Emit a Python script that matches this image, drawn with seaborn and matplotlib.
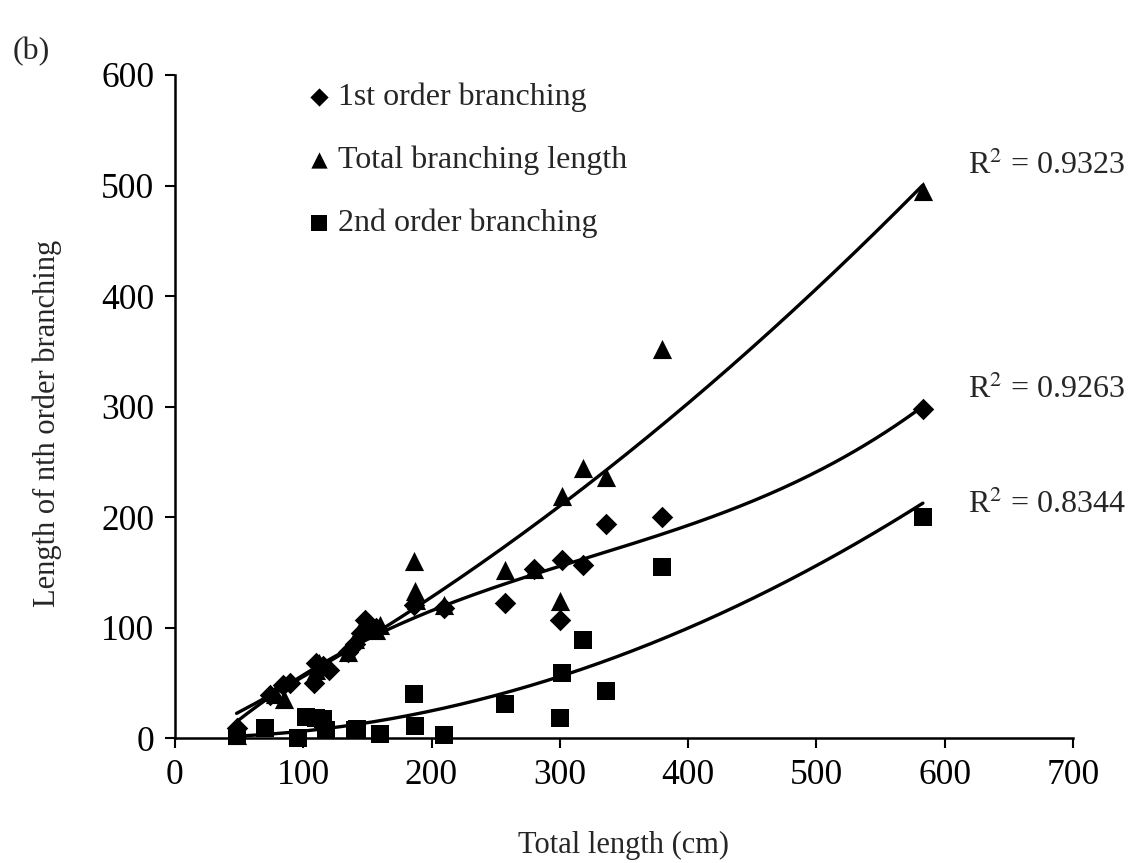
import numpy as np
import pandas as pd
import matplotlib
matplotlib.use("Agg")
import matplotlib.pyplot as plt
import seaborn as sns

# ---- data ----
first_x = [48, 74, 84, 90, 108, 110, 115, 120, 135, 140, 145, 148, 157, 186, 210, 257, 280, 300, 302, 318, 336, 380, 583]
first_y = [9, 39, 48, 50, 50, 68, 65, 62, 78, 85, 95, 107, 100, 120, 118, 122, 153, 107, 161, 157, 194, 200, 298]

total_x = [48, 78, 85, 110, 112, 135, 140, 145, 148, 157, 160, 186, 187, 188, 210, 257, 280, 300, 302, 318, 336, 380, 583]
total_y = [3, 40, 35, 62, 68, 78, 90, 100, 105, 98, 102, 160, 133, 125, 120, 152, 153, 124, 219, 244, 236, 352, 495]

second_x = [48, 70, 96, 102, 110, 115, 118, 140, 142, 160, 186, 187, 210, 257, 300, 302, 318, 336, 380, 583]
second_y = [2, 9, 0, 19, 18, 17, 7, 7, 8, 4, 40, 11, 3, 31, 18, 59, 89, 43, 155, 200]

series_names = ["1st order branching", "Total branching length", "2nd order branching"]
r2_labels = ["0.9263", "0.9323", "0.8344"]
fit_degrees = [3, 2, 2]
x_ticks = [0, 100, 200, 300, 400, 500, 600, 700]
y_ticks = [0, 100, 200, 300, 400, 500, 600]

sns.set_theme(style="white")
plt.rcParams['font.family'] = ['Liberation Serif', 'DejaVu Serif']
plt.rcParams['mathtext.fontset'] = 'stix'

fig = plt.figure(figsize=(11.34, 8.63), dpi=100)
ax = fig.add_axes([0.1543, 0.1448, 0.7919, 0.7683])

markers = ["D", "^", "s"]
sizes = [120, 190, 165]
xs = [first_x, total_x, second_x]
ys = [first_y, total_y, second_y]

for name, mk, sz, x, y, deg in zip(series_names, markers, sizes, xs, ys, fit_degrees):
    df = pd.DataFrame({"x": x, "y": y})
    sns.scatterplot(data=df, x="x", y="y", marker=mk, s=sz, color="black",
                    edgecolor="black", linewidth=0, ax=ax, label=name, zorder=3, clip_on=False)
    coef = np.polyfit(x, y, deg)
    xx = np.linspace(min(x), max(x), 200)
    fit = pd.DataFrame({"x": xx, "y": np.polyval(coef, xx)})
    sns.lineplot(data=fit, x="x", y="y", color="black", linewidth=2.4, ax=ax, zorder=2)

ax.set_xlim(0, 700)
ax.set_ylim(0, 600)
ax.set_xticks(x_ticks)
ax.set_yticks(y_ticks)
ax.tick_params(axis="both", labelsize=25.5, direction="out", length=7, width=1.5,
               bottom=True, left=True, pad=8, colors="black")
for s in ["top", "right"]:
    ax.spines[s].set_visible(False)
for s in ["left", "bottom"]:
    ax.spines[s].set_color("black")
    ax.spines[s].set_linewidth(1.8)

ax.set_xlabel("Total length (cm)", fontsize=22, labelpad=28)
ax.set_ylabel("Length of nth order branching", fontsize=22)
ax.yaxis.set_label_coords(-0.126, 0.475)

leg = ax.legend(loc="upper left", bbox_to_anchor=(0.125, 1.008), frameon=False,
                fontsize=23, handletextpad=0.0, labelspacing=1.05, markerscale=0.85,
                borderaxespad=0, handlelength=1.2)

# R^2 annotations
r2_y = [315, 518, 211]
for lab, yv in zip(r2_labels, r2_y):
    ax.text(618, yv, r"R$^2$ = " + lab, fontsize=23, ha="left", va="center", clip_on=False)

fig.text(0.011, 0.94, "(b)", fontsize=23, ha="left", va="center")

fig.savefig("out.png", dpi=100, facecolor="white")
